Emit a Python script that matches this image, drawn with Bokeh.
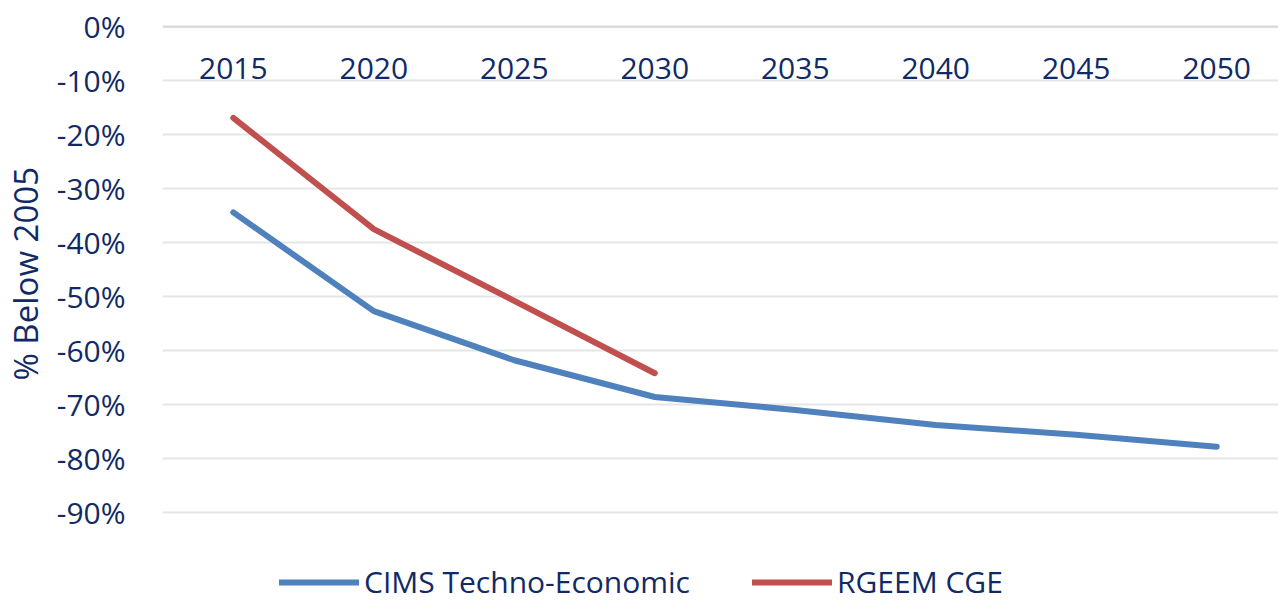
from bokeh.plotting import figure
from bokeh.models import Range1d, FixedTicker, PrintfTickFormatter, Legend, LegendItem, ColumnDataSource, Title
from bokeh.core.properties import value
from bokeh.embed import file_html
from bokeh.resources import INLINE

years = [2015, 2020, 2025, 2030, 2035, 2040, 2045, 2050]
year_labels = ["2015", "2020", "2025", "2030", "2035", "2040", "2045", "2050"]
cims = [-34.4, -52.7, -61.8, -68.6, -71.0, -73.8, -75.6, -77.8]
rgeem_years = [2015, 2020, 2025, 2030]
rgeem = [-16.9, -37.5, -50.8, -64.2]
y_ticks = [0, -10, -20, -30, -40, -50, -60, -70, -80, -90]

FONT = "Open Sans"
NAVY = "#102A66"
BLUE = "#4F81BD"
RED = "#C0504D"

p = figure(width=1278, height=602, output_backend="svg", toolbar_location=None,
           x_range=Range1d(2012.48, 2052.2), y_range=Range1d(-106.67, 0.4),
           min_border_left=161, min_border_top=24, min_border_right=0,
           min_border_bottom=0)
p.outline_line_color = None
p.background_fill_color = "white"
p.border_fill_color = "white"

p.xaxis.visible = False
p.xgrid.visible = False

yax = p.yaxis[0]
yax.ticker = FixedTicker(ticks=y_ticks)
yax.formatter = PrintfTickFormatter(format="%d%%")
yax.axis_line_color = None
yax.major_tick_line_color = None
yax.minor_tick_line_color = None
yax.major_label_standoff = 31
yax.major_label_text_font = FONT
yax.major_label_text_font_size = "30px"
yax.major_label_text_color = NAVY
yax.axis_label = " "
yax.axis_label_text_font_size = "1px"
yax.axis_label_standoff = 2

p.ygrid.ticker = FixedTicker(ticks=y_ticks)
p.ygrid.grid_line_color = "#E6E6E6"
p.ygrid.grid_line_width = 2

ytitle = Title(text="% Below 2005", align="left", offset=222, standoff=0,
               text_font=FONT, text_font_size="33px", text_font_style="normal",
               text_color=NAVY)
p.add_layout(ytitle, "left")

# zero line (category axis)
p.line(x=[2012.48, 2052.2], y=[0, 0], line_color="#D9D9D9", line_width=2)

# year labels below the zero line
src_lab = ColumnDataSource(dict(x=years, y=[-7.8] * len(years), t=year_labels))
p.text(x="x", y="y", text="t", source=src_lab, text_font=value(FONT),
       text_font_size="30px", text_color=NAVY, text_align="center",
       text_baseline="middle")

r1 = p.line(years, cims, line_color=BLUE, line_width=6, line_join="round", line_cap="round")
r2 = p.line(rgeem_years, rgeem, line_color=RED, line_width=6, line_join="round", line_cap="round")

legend = Legend(items=[LegendItem(label="CIMS Techno-Economic", renderers=[r1]),
                       LegendItem(label="RGEEM CGE", renderers=[r2])],
                orientation="horizontal", location=(117, 0))
legend.label_text_font = FONT
legend.label_text_font_size = "30px"
legend.label_text_color = NAVY
legend.glyph_width = 80
legend.label_standoff = 5
legend.spacing = 62
legend.padding = 0
legend.margin = 0
legend.border_line_color = None
legend.background_fill_alpha = 0
p.add_layout(legend, "center")

open("out.html", "w").write(file_html(p, INLINE))
